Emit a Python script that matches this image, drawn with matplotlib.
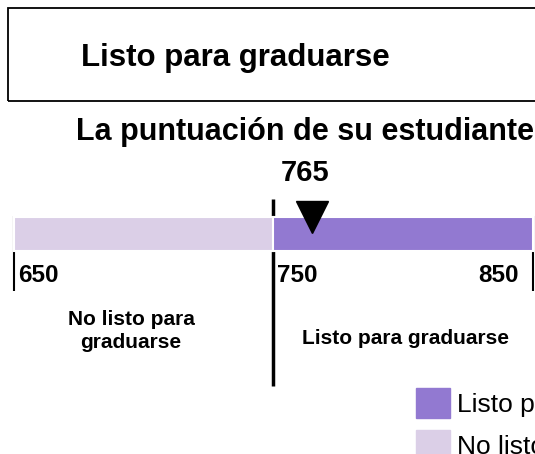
import matplotlib.pyplot as plt
from matplotlib.patches import Rectangle, Patch

plt.rcParams['font.family'] = ['Liberation Sans', 'DejaVu Sans']

# datos
status_title = 'Listo para graduarse'
score_title = 'La puntuación de su estudiante'
student_score = 765
segment_labels = ['No listo para\ngraduarse', 'Listo para graduarse']
legend_labels = ['No listo para graduarse', 'Listo para graduarse']
segment_start = [650, 750]
segment_end = [750, 850]
segment_colors = ['#dbcfe7', '#9279d1']
tick_values = [650, 750, 850]

W, H = 535, 454
fig = plt.figure(figsize=(W / 100, H / 100), dpi=100)


def px(x, y):
    # pixel -> coordenadas de figura
    return x / W, 1 - y / H


# eje que ocupa toda la figura: x en puntos, y en pixeles
ax = fig.add_axes([0, 0, 1, 1])
ax.set_xlim(650 - 14 / 2.595, 850 + 2 / 2.595)
ax.set_ylim(H, 0)
ax.axis('off')

# barras
for s, e, c in zip(segment_start, segment_end, segment_colors):
    ax.barh(234, e - s, left=s, height=34, color=c, edgecolor='white',
            linewidth=1.5, zorder=2)

# marcas de escala
ax.vlines([tick_values[0], tick_values[2]], 216, 291, color='black', lw=1.5, zorder=1)
ax.vlines(tick_values[1], 199, 386, color='black', lw=2.5, zorder=1)

# puntuación del estudiante
ax.plot(student_score, 217, marker='v', markersize=23, color='black', zorder=3)

# caja superior
fig.add_artist(Rectangle(px(8, 101), 1.2, 93 / H, transform=fig.transFigure,
                         fill=False, edgecolor='black', lw=1.3))
fig.text(*px(81, 58), status_title, fontsize=22.5, fontweight='bold',
         ha='left', va='center')

fig.text(*px(305, 132), score_title, fontsize=22, fontweight='bold',
         ha='center', va='center')
fig.text(*px(305, 173), str(student_score), fontsize=21, fontweight='bold',
         ha='center', va='center')

# etiquetas de escala
fig.text(*px(18, 275), str(tick_values[0]), fontsize=17.5, fontweight='bold', ha='left', va='center')
fig.text(*px(277, 275), str(tick_values[1]), fontsize=17.5, fontweight='bold', ha='left', va='center')
fig.text(*px(519, 275), str(tick_values[2]), fontsize=17.5, fontweight='bold', ha='right', va='center')

# etiquetas de segmentos
fig.text(*px(131, 331), segment_labels[0], fontsize=15, fontweight='bold',
         ha='center', va='center', linespacing=1.25)
fig.text(*px(405, 338), segment_labels[1], fontsize=15, fontweight='bold',
         ha='center', va='center')

# leyenda
handles = [Patch(color=segment_colors[1], label=legend_labels[1]),
           Patch(color=segment_colors[0], label=legend_labels[0])]
fig.legend(handles=handles, loc='upper left', bbox_to_anchor=px(416, 388),
           frameon=False, fontsize=19, borderpad=0, borderaxespad=0,
           handlelength=1.29, handleheight=1.36, handletextpad=0.27,
           labelspacing=0.48)

fig.savefig('out.png', dpi=100)
